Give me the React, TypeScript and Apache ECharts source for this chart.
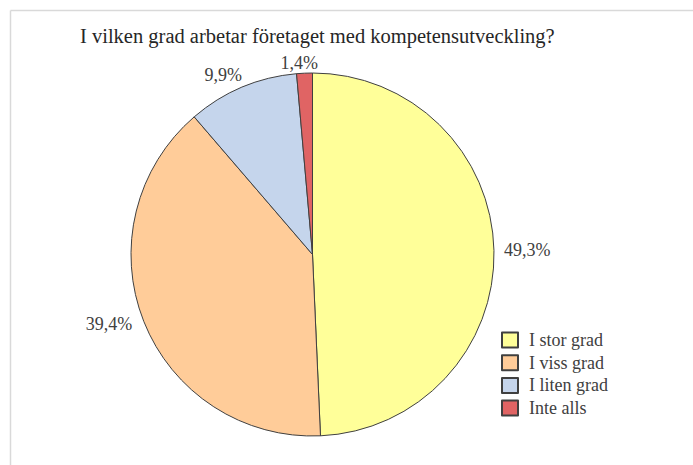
import React, { useEffect, useRef } from "react";
import * as echarts from "echarts";

const titleText = "I vilken grad arbetar företaget med kompetensutveckling?";
const categories = ["I stor grad", "I viss grad", "I liten grad", "Inte alls"];
const values = [49.3, 39.4, 9.9, 1.4];
const colors = ["#FFFF99", "#FFCC99", "#C5D5EC", "#E06464"];

// label tuning (layout only)
const labelLineLens = [5, 7, 13, 10];
const labelLineLen2 = [0, 0, -10, -19];

const FONT = "'Liberation Serif', 'Times New Roman', serif";

export default function App() {
  const ref = useRef<HTMLDivElement>(null);
  useEffect(() => {
    if (!ref.current) return;
    const chart = echarts.init(ref.current, null, { renderer: "svg" });
    const data = categories.map((name, i) => ({
      name,
      value: values[i],
      itemStyle: { color: colors[i] },
      labelLine: { show: false, length: labelLineLens[i], length2: labelLineLen2[i] },
    }));
    chart.setOption({
      animation: false,
      backgroundColor: "#ffffff",
      title: {
        text: titleText,
        left: 80,
        top: 26,
        padding: 0,
        textStyle: {
          fontFamily: FONT,
          fontSize: 20.5,
          fontWeight: "normal",
          color: "#262626",
          lineHeight: 20,
        },
      },
      legend: {
        orient: "vertical",
        left: 501,
        top: 331,
        padding: 0,
        icon: "rect",
        itemWidth: 16,
        itemHeight: 15,
        itemGap: 4.7,
        data: categories,
        textStyle: {
          fontFamily: FONT,
          fontSize: 18,
          lineHeight: 18,
          color: "#404040",
          padding: [0, 0, 0, 6],
        },
      },
      graphic: [
        {
          type: "line",
          shape: { x1: 10.5, y1: 10.5, x2: 693, y2: 10.5 },
          style: { stroke: "#d9d9d9", lineWidth: 1.5 },
        },
        {
          type: "line",
          shape: { x1: 10.5, y1: 10.5, x2: 10.5, y2: 465 },
          style: { stroke: "#d9d9d9", lineWidth: 1.5 },
        },
      ],
      series: [
        {
          type: "pie",
          center: [312.5, 254.5],
          radius: 181.5,
          startAngle: 90,
          clockwise: true,
          avoidLabelOverlap: false,
          itemStyle: { borderColor: "#404040", borderWidth: 1 },
          emphasis: { disabled: true },
          label: {
            show: true,
            position: "outside",
            fontFamily: FONT,
            fontSize: 18,
            color: "#404040",
            formatter: (p: any) => String(p.value).replace(".", ",") + "%",
          },
          labelLine: { show: false },
          data,
        },
      ],
    });
    return () => chart.dispose();
  }, []);
  return (
    <div
      ref={ref}
      style={{ position: "fixed", left: 0, top: 0, width: 693, height: 465 }}
    />
  );
}
